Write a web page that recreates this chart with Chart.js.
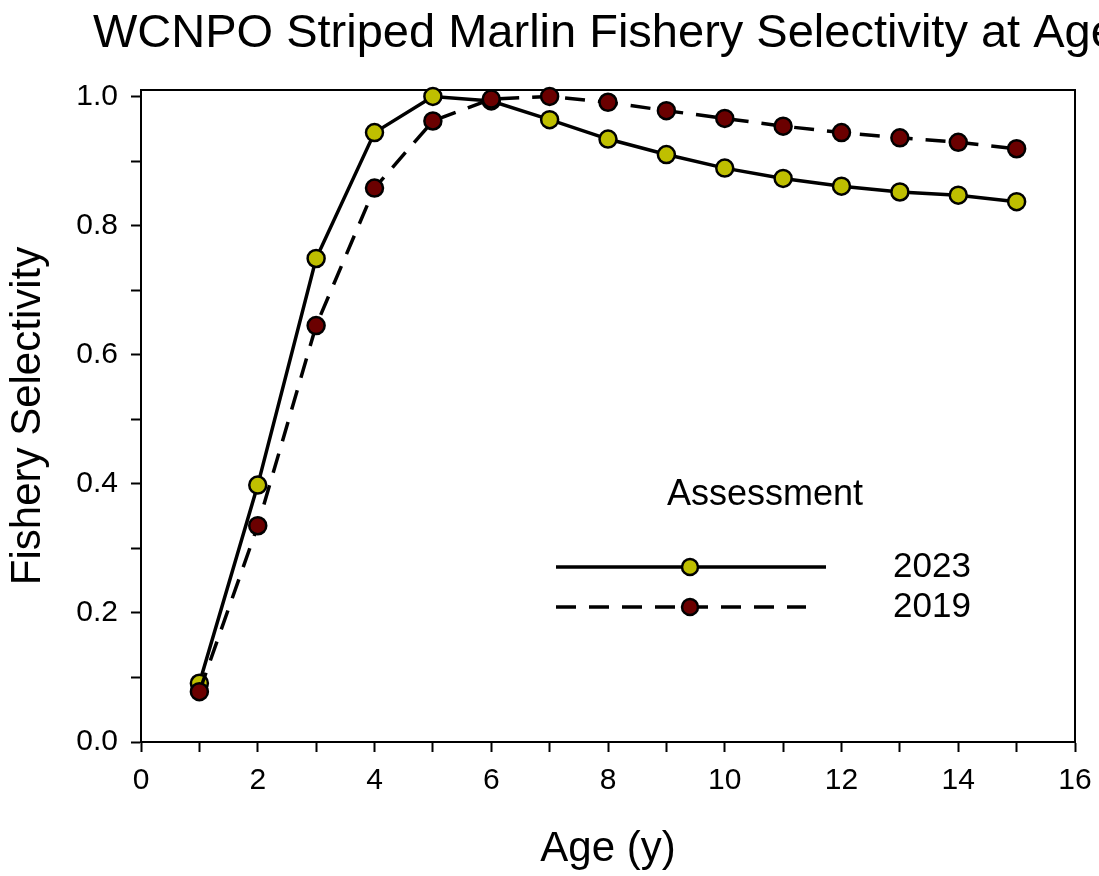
<!DOCTYPE html>
<html>
<head>
<meta charset="utf-8">
<script src="https://cdn.jsdelivr.net/npm/chart.js@4"></script>
<style>
  html, body { margin: 0; padding: 0; background: #fff; }
  canvas { display: block; }
</style>
</head>
<body>
<canvas id="selectivityChart" width="1099" height="876"></canvas>
<script>
// values
const ages = [1, 2, 3, 4, 5, 6, 7, 8, 9, 10, 11, 12, 13, 14, 15];
const sel2023 = [0.091, 0.398, 0.749, 0.944, 1.0, 0.993, 0.964, 0.934, 0.910, 0.889, 0.873, 0.861, 0.852, 0.847, 0.837];
const sel2019 = [0.078, 0.335, 0.645, 0.858, 0.962, 0.996, 1.0, 0.991, 0.978, 0.966, 0.954, 0.944, 0.936, 0.929, 0.919];
const seriesLabels = ['2023', '2019'];
const legendTitle = 'Assessment';
const chartTitle = 'WCNPO Striped Marlin Fishery Selectivity at Age';

const FONT = "'Liberation Sans', Arial, sans-serif";
const yellow = '#bfbf00';
const darkRed = '#6b0000';

function toPoints(values) {
    return ages.map((a, i) => ({ x: a, y: values[i] }));
}

// title placed over the plot area, runs off the right edge like the original
const titlePlugin = {
    id: 'plotTitle',
    afterDraw(chart) {
        const ctx = chart.ctx;
        ctx.save();
        ctx.font = '47px ' + FONT;
        ctx.fillStyle = '#000';
        ctx.textAlign = 'left';
        ctx.textBaseline = 'alphabetic';
        ctx.fillText(chartTitle, 93, 47);
        ctx.restore();
    }
};

// closes the box on top and right
const framePlugin = {
    id: 'frame',
    beforeDatasetsDraw(chart) {
        const { left, right, top, bottom } = chart.chartArea;
        const ctx = chart.ctx;
        ctx.save();
        ctx.strokeStyle = '#000';
        ctx.lineWidth = 2;
        ctx.beginPath();
        ctx.moveTo(left, top);
        ctx.lineTo(right, top);
        ctx.lineTo(right, bottom);
        ctx.stroke();
        ctx.restore();
    }
};

// legend drawn inside the plot area
const legendPlugin = {
    id: 'insideLegend',
    afterDatasetsDraw(chart) {
        const ctx = chart.ctx;
        const ca = chart.chartArea;
        const x0 = ca.left + 415;
        const mid = ca.left + 549;
        const textX = ca.left + 752;
        ctx.save();
        ctx.fillStyle = '#000';
        ctx.font = '36px ' + FONT;
        ctx.textBaseline = 'middle';
        ctx.textAlign = 'center';
        ctx.fillText(legendTitle, ca.left + 624, ca.top + 405);

        const rows = [
            { y: ca.top + 477, len: 270, dash: [], fill: yellow, label: seriesLabels[0] },
            { y: ca.top + 517, len: 250, dash: [20, 13], fill: darkRed, label: seriesLabels[1] }
        ];
        ctx.font = '35px ' + FONT;
        rows.forEach(r => {
            ctx.strokeStyle = '#000';
            ctx.lineWidth = 3.5;
            ctx.setLineDash(r.dash);
            ctx.beginPath();
            ctx.moveTo(x0, r.y);
            ctx.lineTo(x0 + r.len, r.y);
            ctx.stroke();
            ctx.setLineDash([]);
            ctx.lineWidth = 2.5;
            ctx.fillStyle = r.fill;
            ctx.beginPath();
            ctx.arc(mid, r.y, 8, 0, Math.PI * 2);
            ctx.fill();
            ctx.stroke();
            ctx.fillStyle = '#000';
            ctx.textAlign = 'left';
            ctx.fillText(r.label, textX, r.y);
        });
        ctx.restore();
    }
};

const ctx = document.getElementById('selectivityChart').getContext('2d');
new Chart(ctx, {
    type: 'line',
    data: {
        datasets: [
            {
                label: seriesLabels[1],
                data: toPoints(sel2019),
                borderColor: '#000',
                borderWidth: 3.5,
                borderDash: [20, 13],
                pointBackgroundColor: darkRed,
                pointBorderColor: '#000',
                pointBorderWidth: 2.5,
                pointRadius: 8.5,
                fill: false,
                tension: 0,
                clip: false
            },
            {
                label: seriesLabels[0],
                data: toPoints(sel2023),
                borderColor: '#000',
                borderWidth: 3.5,
                pointBackgroundColor: yellow,
                pointBorderColor: '#000',
                pointBorderWidth: 2.5,
                pointRadius: 8.5,
                fill: false,
                tension: 0,
                clip: false
            }
        ]
    },
    options: {
        responsive: false,
        animation: false,
        layout: { padding: { left: 0, top: 90, right: 24, bottom: 0 } },
        plugins: {
            legend: { display: false },
            title: { display: false },
            tooltip: { enabled: false }
        },
        scales: {
            x: {
                type: 'linear',
                min: 0,
                max: 16,
                afterFit(scale) {
                    scale.height = 134;
                    scale.paddingLeft = 0;
                    scale.paddingRight = 0;
                },
                border: { display: true, color: '#000', width: 2 },
                grid: { display: true, drawOnChartArea: false, drawTicks: true, tickLength: 10, tickColor: '#000', tickWidth: 2 },
                ticks: {
                    stepSize: 1,
                    includeBounds: false,
                    autoSkip: false,
                    maxRotation: 0,
                    padding: 11,
                    color: '#000',
                    font: { family: FONT, size: 30 },
                    callback: v => (Math.round(v) % 2 === 0 ? String(Math.round(v)) : '')
                },
                title: {
                    display: true,
                    text: 'Age (y)',
                    color: '#000',
                    font: { family: FONT, size: 42 },
                    padding: { top: 0, bottom: 1 }
                }
            },
            y: {
                type: 'linear',
                min: 0,
                max: 1.01,
                afterFit(scale) { scale.width = 141; },
                border: { display: true, color: '#000', width: 2 },
                grid: { display: true, drawOnChartArea: false, drawTicks: true, tickLength: 10, tickColor: '#000', tickWidth: 2 },
                ticks: {
                    stepSize: 0.1,
                    includeBounds: false,
                    autoSkip: false,
                    padding: 13,
                    color: '#000',
                    font: { family: FONT, size: 30 },
                    callback: v => (Math.round(v * 10) % 2 === 0 ? v.toFixed(1) : '')
                },
                title: {
                    display: true,
                    text: 'Fishery Selectivity',
                    color: '#000',
                    font: { family: FONT, size: 42 },
                    padding: { top: 3, bottom: 0 }
                }
            }
        }
    },
    plugins: [framePlugin, legendPlugin, titlePlugin]
});
</script>
</body>
</html>
